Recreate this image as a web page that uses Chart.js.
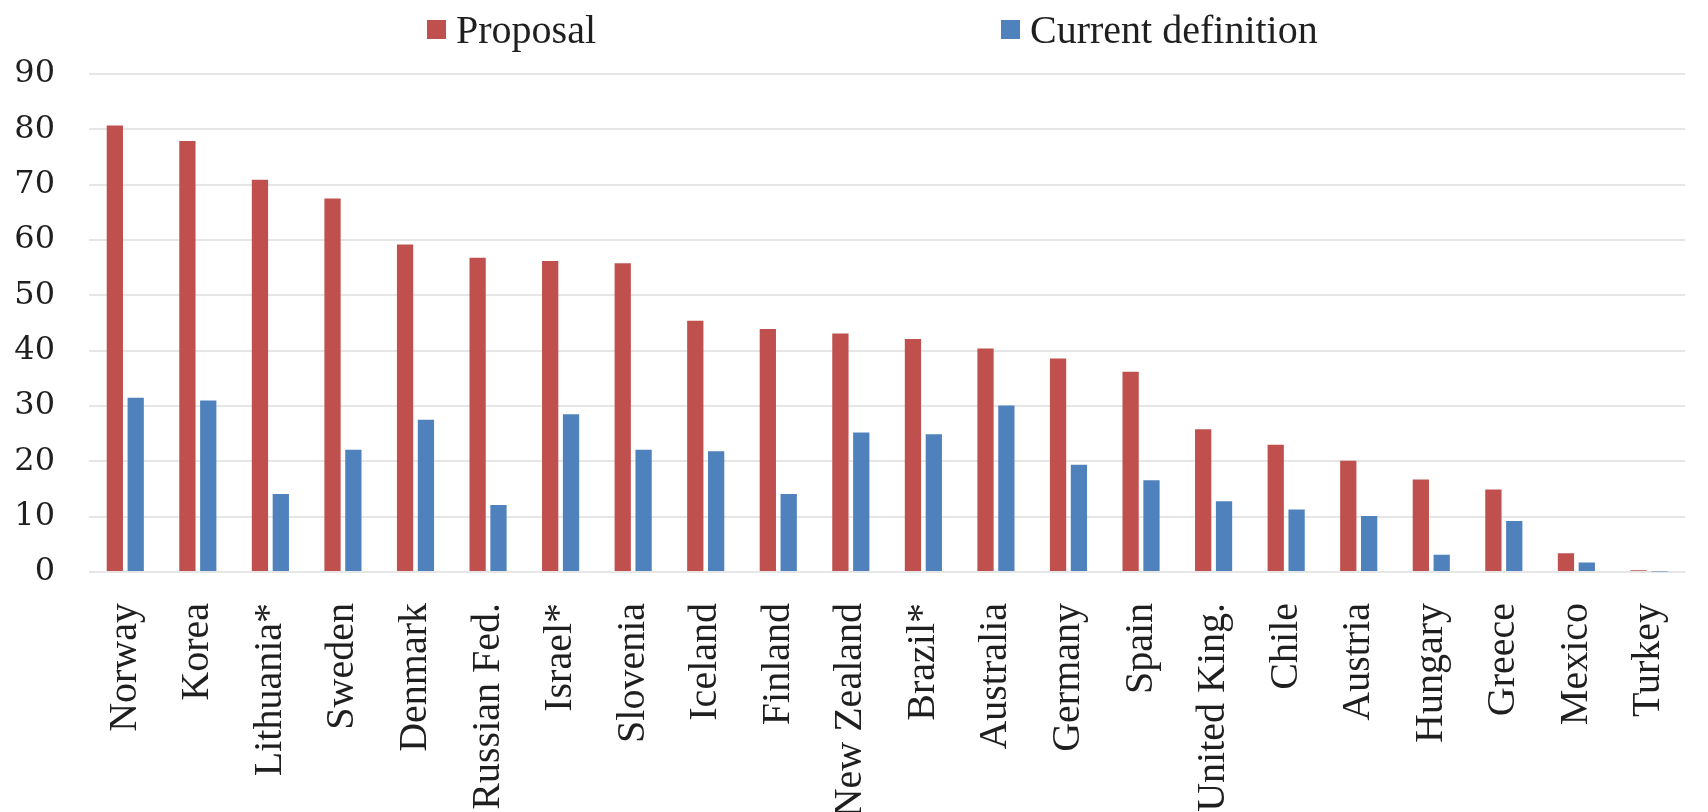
<!DOCTYPE html>
<html>
<head>
<meta charset="utf-8">
<script src="https://cdn.jsdelivr.net/npm/chart.js@4.4.1/dist/chart.umd.min.js"></script>
<style>
  html, body { margin: 0; padding: 0; background: #fff; overflow: hidden; }
  #wrap { width: 1720px; height: 812px; }
</style>
</head>
<body>
<div id="wrap"><canvas id="chart" width="1720" height="812"></canvas></div>
<script>
// values
const countries = ['Norway', 'Korea', 'Lithuania*', 'Sweden', 'Denmark', 'Russian Fed.',
  'Israel*', 'Slovenia', 'Iceland', 'Finland', 'New Zealand', 'Brazil*', 'Australia',
  'Germany', 'Spain', 'United King.', 'Chile', 'Austria', 'Hungary', 'Greece', 'Mexico', 'Turkey'];
const proposal = [80.7, 77.9, 70.9, 67.5, 59.2, 56.8, 56.2, 55.8, 45.4, 43.9, 43.1, 42.1, 40.4,
  38.6, 36.2, 25.8, 23.0, 20.1, 16.7, 14.9, 3.4, 0.3];
const currentDef = [31.5, 31.0, 14.1, 22.1, 27.5, 12.1, 28.5, 22.1, 21.8, 14.1, 25.2, 24.9, 30.1,
  19.4, 16.6, 12.8, 11.3, 10.1, 3.1, 9.2, 1.7, 0.1];
const seriesNames = ['Proposal', 'Current definition'];
const seriesColors = ['#C0504D', '#4F81BD'];
const yTicks = [0, 10, 20, 30, 40, 50, 60, 70, 80, 90];

const SERIF = '"Liberation Serif", "Times New Roman", serif';

// legend drawn on the canvas, spaced like the original
const legendLeft = [427, 1001];
const topLegend = {
  id: 'topLegend',
  afterDraw(chart) {
    const ctx = chart.ctx;
    ctx.save();
    ctx.font = '40px ' + SERIF;
    ctx.textBaseline = 'alphabetic';
    chart.data.datasets.forEach((ds, i) => {
      const x = legendLeft[i];
      ctx.fillStyle = ds.backgroundColor;
      ctx.fillRect(x, 20, 19, 19);
      ctx.fillStyle = '#1f1f1f';
      ctx.fillText(ds.label, x + 29, 43);
    });
    ctx.restore();
  }
};

new Chart(document.getElementById('chart'), {
  type: 'bar',
  data: {
    labels: countries,
    datasets: [
      { label: seriesNames[0], data: proposal, backgroundColor: seriesColors[0] },
      { label: seriesNames[1], data: currentDef, backgroundColor: seriesColors[1] }
    ]
  },
  options: {
    responsive: false,
    animation: false,
    layout: { padding: { top: 74, right: 3, left: 0, bottom: 0 } },
    datasets: {
      bar: { categoryPercentage: 0.575, barPercentage: 0.78 }
    },
    scales: {
      x: {
        grid: { display: false },
        border: { display: false },
        ticks: {
          autoSkip: false,
          minRotation: 90,
          maxRotation: 90,
          padding: 23,
          color: '#1f1f1f',
          font: { family: SERIF, size: 40 }
        },
        afterFit(scale) { scale.height = 240; }
      },
      y: {
        min: 0,
        max: 90,
        afterBuildTicks(scale) { scale.ticks = yTicks.map(v => ({ value: v })); },
        grid: { color: '#e6e6e6', lineWidth: 2, drawTicks: false },
        border: { display: false },
        ticks: {
          padding: 34,
          color: '#1f1f1f',
          font: { family: '"DejaVu Serif", serif', size: 32 }
        },
        afterFit(scale) { scale.width = 89; }
      }
    },
    plugins: {
      legend: { display: false },
      tooltip: { enabled: false }
    }
  },
  plugins: [topLegend]
});
</script>
</body>
</html>
